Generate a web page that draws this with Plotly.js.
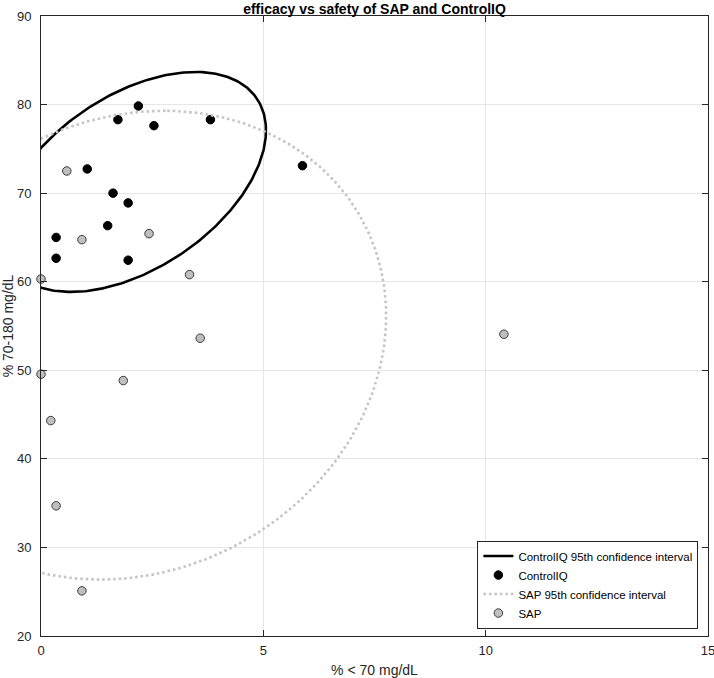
<!DOCTYPE html>
<html>
<head>
<meta charset="utf-8">
<script src="https://cdn.plot.ly/plotly-3.0.1.min.js"></script>
<style>html,body{margin:0;padding:0;background:#fff;}#chart{width:714px;height:678px;}</style>
</head>
<body>
<div id="chart"></div>
<script>
// ControlIQ: % < 70 mg/dL (x) and % 70-180 mg/dL (y)
const controlIQ_x = [0.34, 0.34, 1.04, 1.62, 1.96, 1.50, 1.96, 1.73, 2.19, 2.54, 3.81, 5.88];
const controlIQ_y = [65.0, 62.65, 72.73, 70.0, 68.9, 66.33, 62.43, 78.3, 79.84, 77.62, 78.3, 73.1];
// SAP
const sap_x = [0.58, 0.92, 2.43, 3.34, 0.0, 3.58, 0.0, 1.85, 0.22, 0.34, 0.92, 10.41];
const sap_y = [72.5, 64.75, 65.43, 60.8, 60.3, 53.62, 49.56, 48.84, 44.32, 34.7, 25.1, 54.07];

const xTicks = [0, 5, 10, 15];
const yTicks = [20, 30, 40, 50, 60, 70, 80, 90];
const seriesNames = ['ControlIQ 95th confidence interval', 'ControlIQ', 'SAP 95th confidence interval', 'SAP'];

// 95% confidence ellipse derived from each series' mean and sample covariance
const Z95 = 1.96;
function confidenceEllipse(xs, ys, k, n) {
  const m = xs.length;
  const mx = xs.reduce((a, b) => a + b, 0) / m;
  const my = ys.reduce((a, b) => a + b, 0) / m;
  let sxx = 0, syy = 0, sxy = 0;
  for (let i = 0; i < m; i++) {
    const dx = xs[i] - mx, dy = ys[i] - my;
    sxx += dx * dx; syy += dy * dy; sxy += dx * dy;
  }
  sxx /= (m - 1); syy /= (m - 1); sxy /= (m - 1);
  const tr = sxx + syy, det = sxx * syy - sxy * sxy;
  const disc = Math.sqrt(Math.max(tr * tr / 4 - det, 0));
  const l1 = tr / 2 + disc, l2 = tr / 2 - disc;
  let v1;
  if (Math.abs(sxy) > 1e-12) v1 = [l1 - syy, sxy]; else v1 = sxx >= syy ? [1, 0] : [0, 1];
  const nv = Math.hypot(v1[0], v1[1]);
  v1 = [v1[0] / nv, v1[1] / nv];
  const v2 = [-v1[1], v1[0]];
  const a = k * Math.sqrt(l1), b = k * Math.sqrt(Math.max(l2, 0));
  const ex = [], ey = [];
  for (let i = 0; i <= n; i++) {
    const t = 2 * Math.PI * i / n;
    const c = Math.cos(t), s = Math.sin(t);
    ex.push(mx + a * c * v1[0] + b * s * v2[0]);
    ey.push(my + a * c * v1[1] + b * s * v2[1]);
  }
  return {x: ex, y: ey};
}

const ciqE = confidenceEllipse(controlIQ_x, controlIQ_y, Z95, 360);
const sapE = confidenceEllipse(sap_x, sap_y, Z95, 360);

const axisColor = '#262626';
const gridColor = '#e6e6e6';
const fontFamily = 'Liberation Sans, Arial, Helvetica, sans-serif';

const traces = [
  {x: ciqE.x, y: ciqE.y, mode: 'lines', name: seriesNames[0], type: 'scatter',
   line: {color: '#000000', width: 2.6}, hoverinfo: 'skip'},
  {x: controlIQ_x, y: controlIQ_y, mode: 'markers', name: seriesNames[1], type: 'scatter',
   cliponaxis: false,
   marker: {symbol: 'circle', size: 8.5, color: '#000000', line: {color: '#000000', width: 1}}},
  {x: sapE.x, y: sapE.y, mode: 'lines', name: seriesNames[2], type: 'scatter',
   line: {color: '#c4c4c4', width: 2.6, dash: '2.5px,3px'}, hoverinfo: 'skip'},
  {x: sap_x, y: sap_y, mode: 'markers', name: seriesNames[3], type: 'scatter',
   cliponaxis: false,
   marker: {symbol: 'circle', size: 8.5, color: '#bfbfbf', line: {color: '#3a3a3a', width: 1}}}
];

const layout = {
  width: 714, height: 678,
  margin: {l: 41, r: 6, t: 16, b: 42, pad: 0},
  paper_bgcolor: '#ffffff', plot_bgcolor: '#ffffff',
  font: {family: fontFamily, color: axisColor, size: 13},
  title: {text: '<b>efficacy vs safety of SAP and ControlIQ</b>',
          font: {family: fontFamily, size: 14, color: '#000000'},
          x: 0.5, xref: 'paper', xanchor: 'center', yref: 'container', y: 1, yanchor: 'top', pad: {t: 4}},
  xaxis: {range: [0, 15], tickvals: xTicks, ticktext: xTicks.map(String),
          showgrid: true, gridcolor: gridColor, gridwidth: 1, zeroline: false,
          showline: true, linecolor: axisColor, linewidth: 1, mirror: 'ticks',
          ticks: 'inside', ticklen: 6, tickcolor: axisColor, tickwidth: 1,
          tickfont: {size: 13, color: axisColor}, ticklabelstandoff: 2, ticklabeloverflow: 'allow',
          title: {text: '% < 70 mg/dL', font: {size: 14, color: axisColor}, standoff: 11}},
  yaxis: {range: [20, 90], tickvals: yTicks, ticktext: yTicks.map(String),
          showgrid: true, gridcolor: gridColor, gridwidth: 1, zeroline: false,
          showline: true, linecolor: axisColor, linewidth: 1, mirror: 'ticks',
          ticks: 'inside', ticklen: 6, tickcolor: axisColor, tickwidth: 1,
          tickfont: {size: 13, color: axisColor}, ticklabelstandoff: 6, ticklabeloverflow: 'allow',
          title: {text: '% 70-180 mg/dL', font: {size: 14, color: axisColor}, standoff: 4}},
  showlegend: true,
  legend: {x: 0.9856, xanchor: 'right', y: 0.012, yanchor: 'bottom',
           bgcolor: '#ffffff', bordercolor: axisColor, borderwidth: 1,
           font: {size: 11.5, color: '#000000', family: fontFamily},
           tracegroupgap: 0, itemwidth: 30}
};

Plotly.newPlot('chart', traces, layout, {displayModeBar: false, staticPlot: true});
</script>
</body>
</html>
